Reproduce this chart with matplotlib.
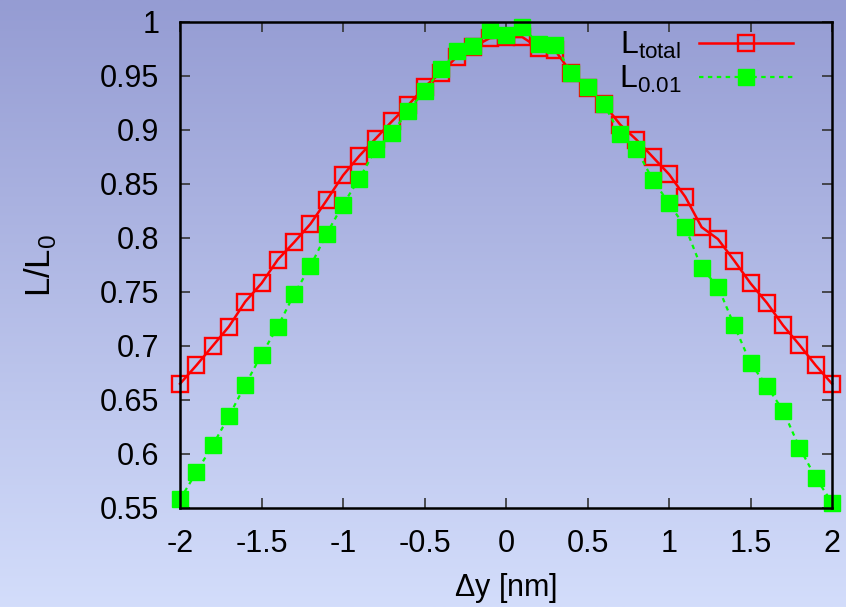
import matplotlib

matplotlib.use("Agg")
import matplotlib.pyplot as plt
import numpy as np
from matplotlib.colors import LinearSegmentedColormap

plt.rcParams["font.family"] = ["Liberation Sans", "DejaVu Sans"]
plt.rcParams["mathtext.fontset"] = "custom"
plt.rcParams["mathtext.rm"] = "Liberation Sans"

# displacement in nm
dy = [-2.0, -1.9, -1.8, -1.7, -1.6, -1.5, -1.4, -1.3, -1.2, -1.1, -1.0,
      -0.9, -0.8, -0.7, -0.6, -0.5, -0.4, -0.3, -0.2, -0.1, 0.0,
      0.1, 0.2, 0.3, 0.4, 0.5, 0.6, 0.7, 0.8, 0.9, 1.0,
      1.1, 1.2, 1.3, 1.4, 1.5, 1.6, 1.7, 1.8, 1.9, 2.0]

l_total = [0.665, 0.682, 0.700, 0.718, 0.741, 0.758, 0.780, 0.796, 0.813, 0.835, 0.858,
           0.876, 0.892, 0.908, 0.923, 0.940, 0.953, 0.968, 0.977, 0.985, 0.986,
           0.986, 0.976, 0.974, 0.953, 0.939, 0.924, 0.905, 0.891, 0.875, 0.859,
           0.838, 0.810, 0.799, 0.779, 0.758, 0.740, 0.719, 0.701, 0.682, 0.665]

l_001 = [0.558, 0.583, 0.608, 0.635, 0.664, 0.692, 0.718, 0.748, 0.774, 0.804, 0.831,
         0.855, 0.882, 0.897, 0.918, 0.936, 0.956, 0.973, 0.978, 0.993, 0.988,
         0.995, 0.980, 0.979, 0.953, 0.940, 0.924, 0.896, 0.882, 0.854, 0.832,
         0.810, 0.772, 0.755, 0.719, 0.684, 0.663, 0.640, 0.606, 0.578, 0.555]

xticks = [-2, -1.5, -1, -0.5, 0, 0.5, 1, 1.5, 2]
yticks = [0.55, 0.6, 0.65, 0.7, 0.75, 0.8, 0.85, 0.9, 0.95, 1.0]

fig = plt.figure(figsize=(8.46, 6.07), dpi=100)

# vertical gradient background behind everything
bg = fig.add_axes([0, 0, 1, 1], zorder=0)
grad = LinearSegmentedColormap.from_list("bg", ["#d3ddfb", "#959cd3"])
bg.imshow(np.linspace(0, 1, 256).reshape(-1, 1), aspect="auto", cmap=grad,
          origin="lower", extent=[0, 1, 0, 1])
bg.set_axis_off()

ax = fig.add_axes([0.2128, 0.1631, 0.7707, 0.8007], zorder=1)
ax.patch.set_alpha(0)

ax.plot(dy, l_total, color="#ff0000", lw=1.8, marker="s", ms=11,
        mfc="none", mec="#ff0000", mew=1.7, clip_on=False,
        label=r"$\mathregular{L_{total}}$")
ax.plot(dy, l_001, color="#00ff00", lw=1.6, ls=(0, (2, 2)), marker="s", ms=11,
        mfc="#00ff00", mec="#00ff00", clip_on=False,
        label=r"$\mathregular{L_{0.01}}$")

ax.set_xlim(-2, 2)
ax.set_ylim(0.55, 1.0)
ax.set_xticks(xticks)
ax.set_xticklabels([f"{t:g}" for t in xticks])
ax.set_yticks(yticks)
ax.set_yticklabels([f"{t:g}" for t in yticks])
ax.tick_params(direction="in", length=7, width=1.2, top=True, right=True,
               labelsize=22, color="#333333")
ax.tick_params(axis="x", pad=15)
ax.tick_params(axis="y", pad=15)
for s in ax.spines.values():
    s.set_linewidth(1.8)

ax.set_xlabel(r"$\Delta$y [nm]", fontsize=22, labelpad=9)
ax.set_ylabel(r"L/L$_\mathregular{0}$", fontsize=25, labelpad=30)

ax.legend(loc="upper right", frameon=False, markerfirst=False, fontsize=23,
          handlelength=2.95, labelspacing=0.1, borderpad=0, borderaxespad=0,
          handletextpad=0.55, bbox_to_anchor=(793 / 846, 1 - 30 / 607),
          bbox_transform=fig.transFigure)

fig.savefig("out.png", dpi=100)
